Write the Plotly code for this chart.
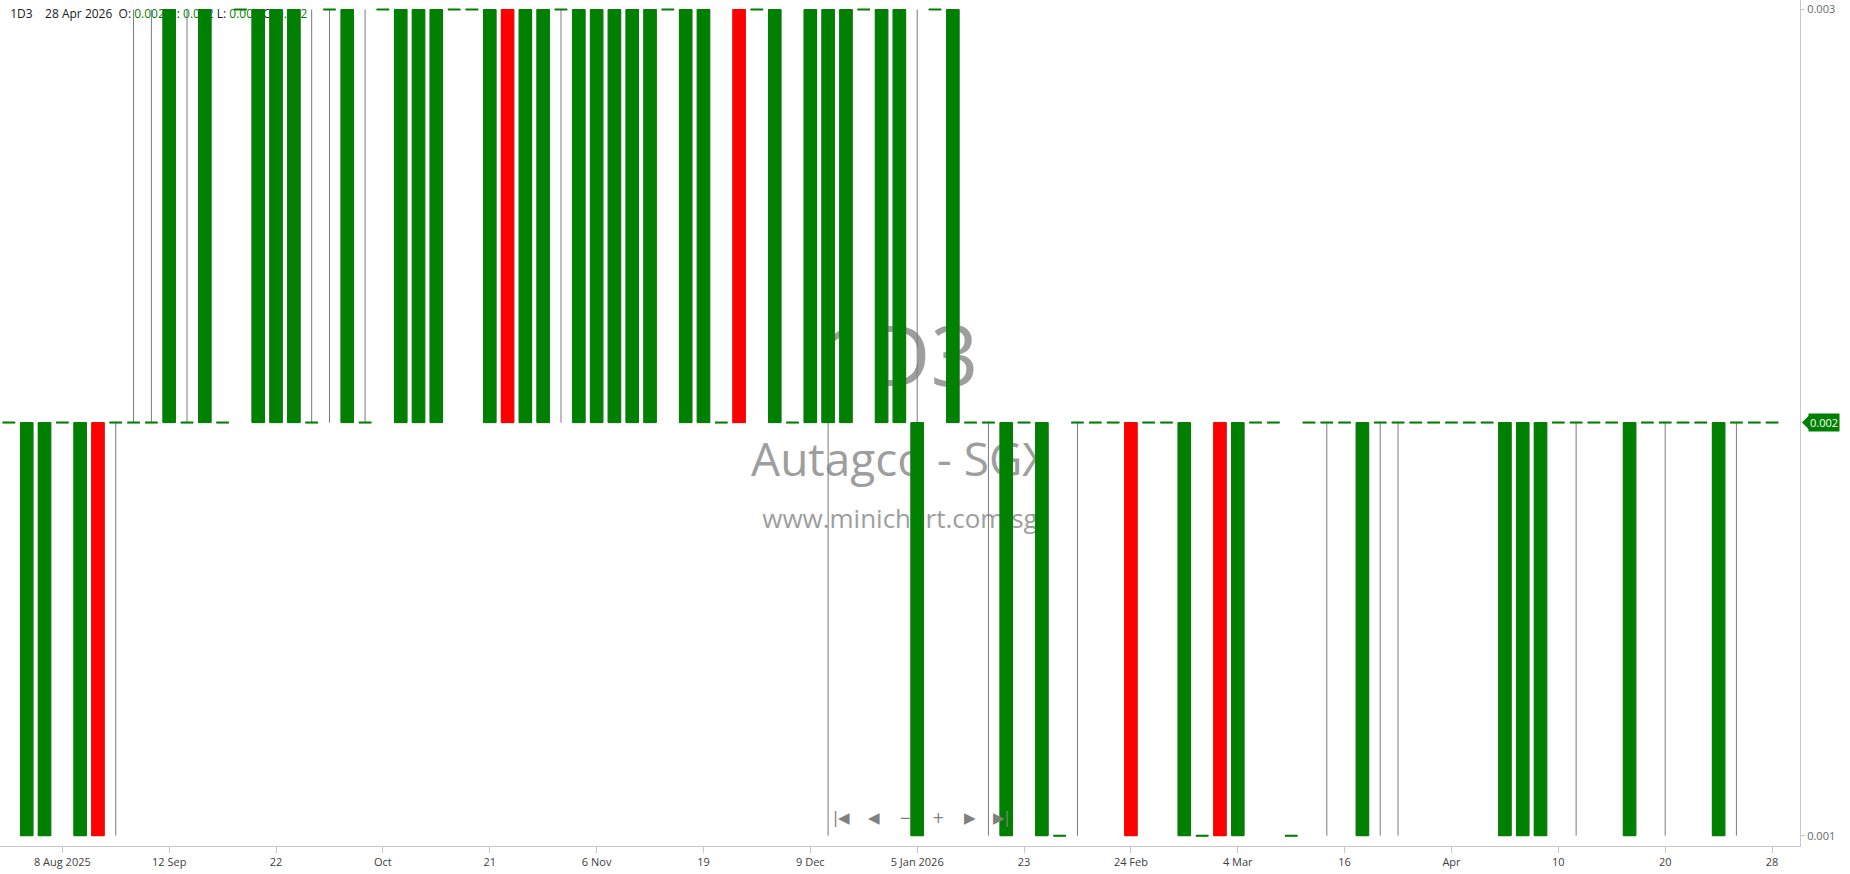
import plotly.graph_objects as go

# 日足（約定のあった日のみ）
DATES = [
    "2025-07-30", "2025-08-01", "2025-08-05", "2025-08-08", "2025-08-13",
    "2025-08-19", "2025-08-26", "2025-09-02", "2025-09-08", "2025-09-12",
    "2025-09-15", "2025-09-16", "2025-09-17", "2025-09-18", "2025-09-19",
    "2025-09-22", "2025-09-23", "2025-09-24", "2025-09-25", "2025-09-29",
    "2025-09-30", "2025-10-01", "2025-10-03", "2025-10-07", "2025-10-10",
    "2025-10-14", "2025-10-17", "2025-10-21", "2025-10-23", "2025-10-27",
    "2025-10-29", "2025-10-31", "2025-11-04", "2025-11-06", "2025-11-07",
    "2025-11-10", "2025-11-12", "2025-11-14", "2025-11-17", "2025-11-19",
    "2025-11-21", "2025-11-25", "2025-11-27", "2025-12-02", "2025-12-05",
    "2025-12-09", "2025-12-12", "2025-12-16", "2025-12-19", "2025-12-23",
    "2025-12-30", "2026-01-05", "2026-01-07", "2026-01-09", "2026-01-13",
    "2026-01-16", "2026-01-20", "2026-01-23", "2026-01-28", "2026-02-02",
    "2026-02-06", "2026-02-11", "2026-02-19", "2026-02-24", "2026-02-25",
    "2026-02-26", "2026-02-27", "2026-03-02", "2026-03-03", "2026-03-04",
    "2026-03-05", "2026-03-06", "2026-03-09", "2026-03-11", "2026-03-13",
    "2026-03-16", "2026-03-18", "2026-03-20", "2026-03-23", "2026-03-25",
    "2026-03-27", "2026-04-01", "2026-04-02", "2026-04-06", "2026-04-07",
    "2026-04-08", "2026-04-09", "2026-04-10", "2026-04-13", "2026-04-14",
    "2026-04-15", "2026-04-16", "2026-04-17", "2026-04-20", "2026-04-21",
    "2026-04-22", "2026-04-23", "2026-04-24", "2026-04-27", "2026-04-28",
]

OPEN = [
    0.002, 0.001, 0.001, 0.002, 0.001, 0.002, 0.002, 0.002, 0.002, 0.002,
    0.002, 0.002, 0.002, 0.003, 0.002, 0.002, 0.002, 0.002, 0.003, 0.002,
    0.002, 0.003, 0.002, 0.002, 0.002, 0.003, 0.003, 0.002, 0.003, 0.002,
    0.002, 0.003, 0.002, 0.002, 0.002, 0.002, 0.002, 0.003, 0.002, 0.002,
    0.002, 0.003, 0.003, 0.002, 0.002, 0.002, 0.002, 0.002, 0.003, 0.002,
    0.002, 0.001, 0.003, 0.002, 0.002, 0.002, 0.001, 0.002, 0.001, 0.001,
    0.002, 0.002, 0.002, 0.002, 0.002, 0.002, 0.001, 0.001, 0.002, 0.001,
    0.002, 0.002, 0.001, 0.002, 0.002, 0.002, 0.001, 0.002, 0.002, 0.002,
    0.002, 0.002, 0.002, 0.002, 0.001, 0.001, 0.001, 0.002, 0.002, 0.002,
    0.002, 0.001, 0.002, 0.002, 0.002, 0.002, 0.001, 0.002, 0.002, 0.002,
]
HIGH = [
    0.002, 0.002, 0.002, 0.002, 0.002, 0.002, 0.002, 0.003, 0.003, 0.003,
    0.003, 0.003, 0.002, 0.003, 0.003, 0.003, 0.003, 0.003, 0.003, 0.003,
    0.003, 0.003, 0.003, 0.003, 0.003, 0.003, 0.003, 0.003, 0.003, 0.003,
    0.003, 0.003, 0.003, 0.003, 0.003, 0.003, 0.003, 0.003, 0.003, 0.003,
    0.002, 0.003, 0.003, 0.003, 0.002, 0.003, 0.003, 0.003, 0.003, 0.003,
    0.003, 0.003, 0.003, 0.003, 0.002, 0.002, 0.002, 0.002, 0.002, 0.001,
    0.002, 0.002, 0.002, 0.002, 0.002, 0.002, 0.002, 0.001, 0.002, 0.002,
    0.002, 0.002, 0.001, 0.002, 0.002, 0.002, 0.002, 0.002, 0.002, 0.002,
    0.002, 0.002, 0.002, 0.002, 0.002, 0.002, 0.002, 0.002, 0.002, 0.002,
    0.002, 0.002, 0.002, 0.002, 0.002, 0.002, 0.002, 0.002, 0.002, 0.002,
]
LOW = [
    0.002, 0.001, 0.001, 0.002, 0.001, 0.001, 0.001, 0.002, 0.002, 0.002,
    0.002, 0.002, 0.002, 0.003, 0.002, 0.002, 0.002, 0.002, 0.002, 0.002,
    0.002, 0.003, 0.002, 0.002, 0.002, 0.003, 0.003, 0.002, 0.002, 0.002,
    0.002, 0.002, 0.002, 0.002, 0.002, 0.002, 0.002, 0.003, 0.002, 0.002,
    0.002, 0.002, 0.003, 0.002, 0.002, 0.002, 0.001, 0.002, 0.003, 0.002,
    0.002, 0.001, 0.003, 0.002, 0.002, 0.001, 0.001, 0.002, 0.001, 0.001,
    0.001, 0.002, 0.002, 0.001, 0.002, 0.002, 0.001, 0.001, 0.001, 0.001,
    0.002, 0.002, 0.001, 0.002, 0.001, 0.002, 0.001, 0.001, 0.001, 0.002,
    0.002, 0.002, 0.002, 0.002, 0.001, 0.001, 0.001, 0.002, 0.001, 0.002,
    0.002, 0.001, 0.002, 0.001, 0.002, 0.002, 0.001, 0.001, 0.002, 0.002,
]
CLOSE = [
    0.002, 0.002, 0.002, 0.002, 0.002, 0.001, 0.002, 0.002, 0.002, 0.003,
    0.002, 0.003, 0.002, 0.003, 0.003, 0.003, 0.003, 0.002, 0.003, 0.003,
    0.002, 0.003, 0.003, 0.003, 0.003, 0.003, 0.003, 0.003, 0.002, 0.003,
    0.003, 0.003, 0.003, 0.003, 0.003, 0.003, 0.003, 0.003, 0.003, 0.003,
    0.002, 0.002, 0.003, 0.003, 0.002, 0.003, 0.003, 0.003, 0.003, 0.003,
    0.003, 0.002, 0.003, 0.003, 0.002, 0.002, 0.002, 0.002, 0.002, 0.001,
    0.002, 0.002, 0.002, 0.001, 0.002, 0.002, 0.002, 0.001, 0.001, 0.002,
    0.002, 0.002, 0.001, 0.002, 0.002, 0.002, 0.002, 0.002, 0.002, 0.002,
    0.002, 0.002, 0.002, 0.002, 0.002, 0.002, 0.002, 0.002, 0.002, 0.002,
    0.002, 0.002, 0.002, 0.002, 0.002, 0.002, 0.002, 0.002, 0.002, 0.002,
]

TICK_DATES = [
    "2025-08-08", "2025-09-12", "2025-09-22", "2025-10-01", "2025-10-21",
    "2025-11-06", "2025-11-19", "2025-12-09", "2026-01-05", "2026-01-23",
    "2026-02-24", "2026-03-04", "2026-03-16", "2026-04-01", "2026-04-10",
    "2026-04-20", "2026-04-28",
]
TICK_LABELS = [
    "8 Aug 2025", "12 Sep", "22", "Oct", "21", "6 Nov", "19", "9 Dec",
    "5 Jan 2026", "23", "24 Feb", "4 Mar", "16", "Apr", "10", "20", "28",
]
Y_TICKS = [0.001, 0.003]
Y_LABELS = ["0.001", "0.003"]
LAST_PRICE = 0.002

TICKER = "1D3"
NAME = "Autagco - SGX"
SITE = "www.minichart.com.sg"

# カラー
COLOR_UP = "#008000"
COLOR_DOWN = "#FF0000"
COLOR_WICK = "#7A7A7A"
COLOR_AXIS = "#C8C8C8"
COLOR_TEXT = "#404040"
COLOR_MARK = "#9E9E9E"
FONT = "Open Sans"
CLEAR = "rgba(0,0,0,0)"

fig = go.Figure()

# --- ヒゲ（グレー） ---
fig.add_trace(
    go.Candlestick(
        x=DATES, open=OPEN, high=HIGH, low=LOW, close=CLOSE,
        increasing=dict(line=dict(color=COLOR_WICK, width=1), fillcolor=CLEAR),
        decreasing=dict(line=dict(color=COLOR_WICK, width=1), fillcolor=CLEAR),
        whiskerwidth=0, hoverinfo="skip", showlegend=False,
    )
)

# --- 実体 ---
is_doji = [o == c for o, c in zip(OPEN, CLOSE)]
body_open = [None if d else o for d, o in zip(is_doji, OPEN)]
body_close = [None if d else c for d, c in zip(is_doji, CLOSE)]
body_high = [None if d else max(o, c) for d, o, c in zip(is_doji, OPEN, CLOSE)]
body_low = [None if d else min(o, c) for d, o, c in zip(is_doji, OPEN, CLOSE)]
fig.add_trace(
    go.Candlestick(
        x=DATES, open=body_open, high=body_high, low=body_low, close=body_close,
        increasing=dict(line=dict(color=COLOR_UP, width=1), fillcolor=COLOR_UP),
        decreasing=dict(line=dict(color=COLOR_DOWN, width=1), fillcolor=COLOR_DOWN),
        whiskerwidth=0, hoverinfo="skip", showlegend=False,
    )
)

# --- 同値足（緑の横線） ---
doji = [o if d else None for d, o in zip(is_doji, OPEN)]
fig.add_trace(
    go.Candlestick(
        x=DATES, open=doji, high=doji, low=doji, close=doji,
        increasing=dict(line=dict(color=COLOR_UP, width=2), fillcolor=COLOR_UP),
        decreasing=dict(line=dict(color=COLOR_UP, width=2), fillcolor=COLOR_UP),
        whiskerwidth=0, hoverinfo="skip", showlegend=False,
    )
)


def below_text(text, x0, x1, y0, y1, size, color, pos="middle center"):
    # 足の下に描く文字（透かし・ヘッダー）
    fig.add_shape(
        type="rect", xref="paper", yref="paper",
        x0=x0, x1=x1, y0=y0, y1=y1,
        line=dict(width=0), fillcolor=CLEAR, layer="below",
        label=dict(text=text, font=dict(family=FONT, size=size, color=color),
                   textposition=pos, padding=0),
    )


# 透かし
below_text(TICKER, 0.35, 0.65, 0.525, 0.625, 84, COLOR_MARK)
below_text(NAME, 0.30, 0.70, 0.42, 0.49, 46, COLOR_MARK)
below_text(SITE, 0.30, 0.70, 0.36, 0.41, 26, COLOR_MARK)

# ヘッダー
g = lambda v: f"<span style='color:{COLOR_UP}'>{v:.3f}</span>"
sp = "\u00a0"
header = (
    f"{TICKER}{sp*4}28 Apr 2026{sp*2}O:{sp}{g(OPEN[-1])}{sp}H:{sp}{g(HIGH[-1])}"
    f"{sp}L:{sp}{g(LOW[-1])}{sp}C:{sp}{g(CLOSE[-1])}"
)
below_text(header, 0.004, 0.4, 0.972, 0.994, 12, "#202020", pos="middle left")

# 最終値タグ
fig.add_shape(
    type="path", xref="paper", yref="y",
    xsizemode="pixel", ysizemode="pixel", xanchor=1, yanchor=LAST_PRICE,
    path="M 2,0 L 9,7 L 9,-7 Z",
    fillcolor=COLOR_UP, line=dict(width=0),
)
fig.add_annotation(
    x=1, y=LAST_PRICE, xref="paper", yref="y", xanchor="left", xshift=8,
    text=f"{LAST_PRICE:.3f}", showarrow=False,
    bgcolor=COLOR_UP, borderpad=1,
    font=dict(family=FONT, size=11, color="white"),
)

# ナビゲーションボタン
NAV = ["|◀", "◀", "−", "+", "▶", "▶|"]
NAV_X = [841, 874, 905, 938, 970, 1001]
for label, px in zip(NAV, NAV_X):
    fig.add_annotation(
        x=px / 1800, y=0.02, xref="paper", yref="paper",
        text=label, showarrow=False,
        font=dict(family="DejaVu Sans", size=15, color="#808080"),
    )

fig.update_layout(
    width=1850, height=874,
    margin=dict(l=0, r=50, t=0, b=28),
    paper_bgcolor="white", plot_bgcolor="white",
    showlegend=False, boxgap=0.3, boxgroupgap=0,
    xaxis=dict(
        type="category", range=[-0.5, 100.57],
        rangeslider=dict(visible=False),
        tickvals=TICK_DATES, ticktext=TICK_LABELS,
        ticks="outside", ticklen=6, tickcolor=COLOR_AXIS,
        showline=True, linecolor=COLOR_AXIS, showgrid=False, zeroline=False,
        tickfont=dict(family=FONT, size=11, color=COLOR_TEXT),
    ),
    yaxis=dict(
        side="right", range=[0.000975, 0.003023],
        tickvals=Y_TICKS, ticktext=Y_LABELS,
        ticks="outside", ticklen=4, tickcolor=COLOR_AXIS,
        showline=True, linecolor=COLOR_AXIS, showgrid=False, zeroline=False,
        tickfont=dict(family=FONT, size=11, color="#666666"),
    ),
)

fig.write_html(
    "out.html",
    config={"displayModeBar": False},
    post_script="document.body.style.margin='0';",
)
